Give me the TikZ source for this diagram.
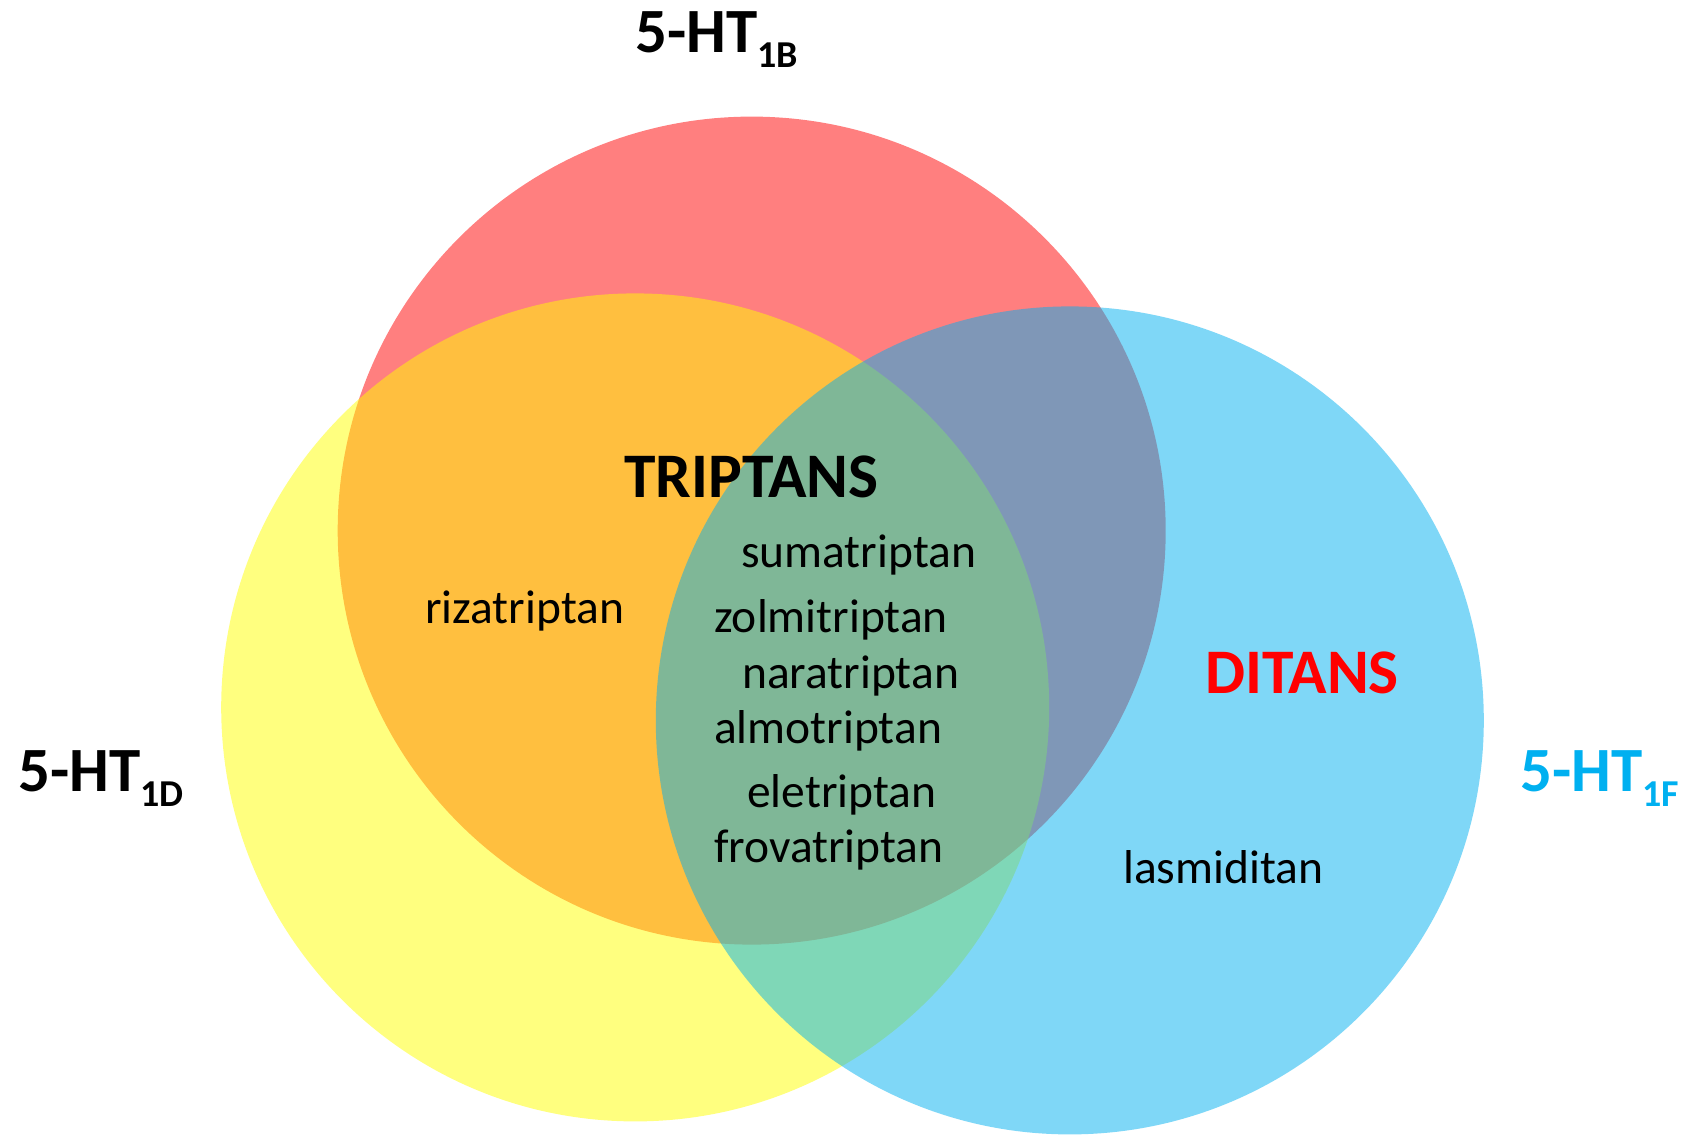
\documentclass[tikz,border=0pt]{standalone}
\usepackage{fontspec}
\setmainfont{Carlito}
\definecolor{cred}{HTML}{FF0000}
\definecolor{cyel}{HTML}{FFFF00}
\definecolor{cblue}{HTML}{00B0F0}
\newcommand{\subt}[1]{\raisebox{-15pt}{\fontsize{38}{38}\selectfont #1}}
\begin{document}
\begin{tikzpicture}[x=1pt,y=-1pt,
  venn/.style={circle,minimum size=828pt,inner sep=0pt,fill opacity=0.5},
  lbl/.style={anchor=base west,inner sep=0pt,font=\fontsize{63}{63}\selectfont\bfseries},
  drug/.style={anchor=base west,inner sep=0pt,font=\fontsize{47.5}{47.5}\selectfont},
  head/.style={anchor=base west,inner sep=0pt,font=\fontsize{63.5}{63.5}\selectfont\bfseries}]
\useasboundingbox[fill=white] (0,0) rectangle (1691,1137);
\node[venn,fill=cred] (b) at (751.7,530.6) {};
\node[venn,fill=cyel] (d) at (635.2,707.4) {};
\node[venn,fill=cblue] (f) at (1069.8,720.4) {};
\node[lbl] (lb) at (635,53) {5-HT\subt{1B}};
\node[lbl] (ld) at (18,791) {5-HT\subt{1D}};
\node[lbl,text=cblue] (lf) at (1520,791) {5-HT\subt{1F}};
\node[head] (trip) at (624,497) {TRIPTANS};
\node[head,text=cred] (dit) at (1205,693) {DITANS};
\node[drug] (riz) at (425,623) {rizatriptan};
\node[drug] (suma) at (741,567) {sumatriptan};
\node[drug] (zolm) at (714,632) {zolmitriptan};
\node[drug] (nara) at (742,688) {naratriptan};
\node[drug] (almo) at (714,743) {almotriptan};
\node[drug] (ele) at (747,807) {eletriptan};
\node[drug] (frov) at (714,862) {frovatriptan};
\node[drug] (las) at (1123,883) {lasmiditan};
\end{tikzpicture}
\end{document}
